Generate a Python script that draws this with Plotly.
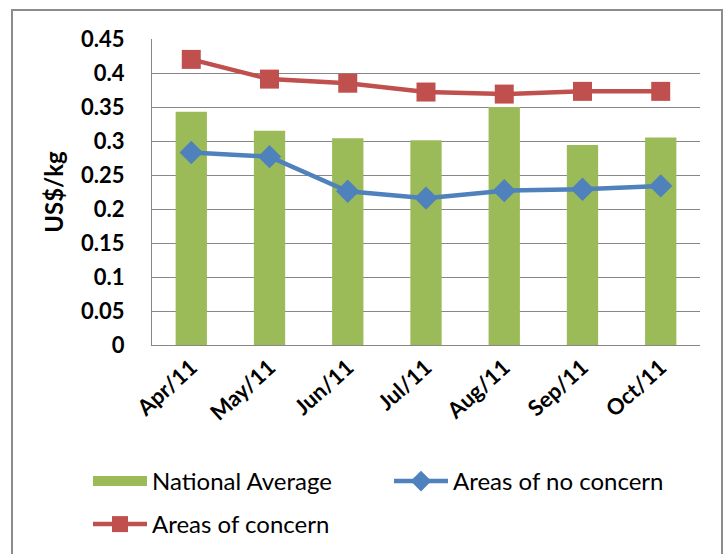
import plotly.graph_objects as go

# Monthly prices, US$/kg
months = ["Apr/11", "May/11", "Jun/11", "Jul/11", "Aug/11", "Sep/11", "Oct/11"]
national_average = [0.343, 0.315, 0.304, 0.301, 0.350, 0.294, 0.305]
areas_no_concern = [0.283, 0.277, 0.226, 0.216, 0.227, 0.229, 0.234]
areas_concern = [0.420, 0.391, 0.385, 0.372, 0.369, 0.373, 0.373]
y_ticks = [0, 0.05, 0.1, 0.15, 0.2, 0.25, 0.3, 0.35, 0.4, 0.45]
y_tick_text = ["0", "0.05", "0.1", "0.15", "0.2", "0.25", "0.3", "0.35", "0.4", "0.45"]

GREEN = "#9BBB59"
BLUE = "#4F81BD"
RED = "#C0504D"
GRID = "#878787"
FONT = "Lato"

fig = go.Figure()
fig.add_trace(go.Bar(
    x=months, y=national_average, name="National Average",
    marker=dict(color=GREEN, line=dict(width=0)), width=0.4,
    showlegend=False,
))
# legend swatch for the bars: a wide flat block
fig.add_trace(go.Scatter(
    x=[None], y=[None], name="National Average", mode="lines",
    line=dict(color=GREEN, width=14), legend="legend",
))
fig.add_trace(go.Scatter(
    x=months, y=areas_no_concern, name="Areas of no concern",
    mode="lines+markers",
    line=dict(color=BLUE, width=4.5),
    marker=dict(symbol="diamond", size=18, color=BLUE),
    legend="legend",
))
fig.add_trace(go.Scatter(
    x=months, y=areas_concern, name="Areas of concern",
    mode="lines+markers",
    line=dict(color=RED, width=4.5),
    marker=dict(symbol="square", size=19, color=RED),
    legend="legend2",
))

L, R, T, B = 152, 27, 39, 209
W, H = 727, 554
pw, ph = W - L - R, H - T - B

def px_x(p):
    return (p - L) / pw

def px_y(p):
    return (H - B - p) / ph

legend_font = dict(size=24, family=FONT, color="black")
legend_common = dict(
    orientation="h", xanchor="left", yanchor="top",
    entrywidth=232, entrywidthmode="pixels",
    font=legend_font, itemwidth=54, bgcolor="rgba(0,0,0,0)",
)

fig.update_layout(
    width=W, height=H,
    margin=dict(l=L, r=R, t=T, b=B, autoexpand=False),
    paper_bgcolor="white", plot_bgcolor="white",
    font=dict(family=FONT, color="black"),
    showlegend=True,
    legend=dict(x=px_x(88), y=px_y(459), **legend_common),
    legend2=dict(x=px_x(88), y=px_y(502), **legend_common),
    xaxis=dict(
        type="category",
        tickangle=-42,
        tickfont=dict(size=22, family=FONT, color="black", weight="bold"),
        showline=True, linecolor=GRID, linewidth=1,
        ticks="", showgrid=False, automargin=False,
    ),
    yaxis=dict(
        range=[0, 0.45],
        tickvals=y_ticks, ticktext=y_tick_text,
        tickfont=dict(size=22, family=FONT, color="black", weight="bold"),
        ticklabelstandoff=22,
        showline=True, linecolor=GRID, linewidth=1,
        showgrid=True, gridcolor=GRID, gridwidth=1,
        zeroline=False, ticks="", automargin=False,
        title=dict(text="US$/kg", font=dict(size=24, family=FONT, color="black", weight="bold"), standoff=10),
    ),
    shapes=[dict(
        type="rect", xref="paper", yref="paper",
        x0=px_x(12), x1=px_x(722), y0=px_y(570), y1=px_y(10),
        line=dict(color="#8c8c8c", width=2), fillcolor="rgba(0,0,0,0)", layer="below",
    )],
)

fig.write_html("out.html")
